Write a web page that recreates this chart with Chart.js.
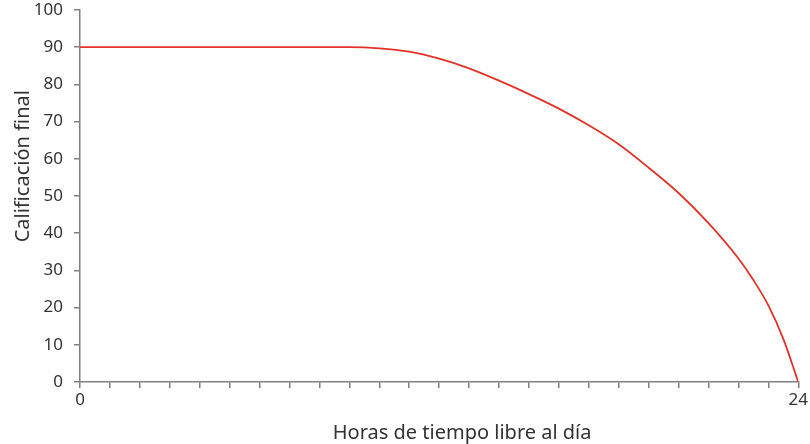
<!DOCTYPE html>
<html lang="es">
<head>
    <meta charset="UTF-8">
    <title>Calificación final vs horas de tiempo libre</title>
    <style>
        html, body { margin: 0; padding: 0; background: #fff; }
        #wrap { width: 810px; height: 444px; position: relative; }
    </style>
</head>
<body>
    <div id="wrap"><canvas id="chart" width="810" height="444"></canvas></div>

    <script src="https://cdn.jsdelivr.net/npm/chart.js@4/dist/chart.umd.min.js"></script>
    <script>
        // values
        const hours  = [0, 1, 2, 3, 4, 5, 6, 7, 8, 9, 10, 11, 12, 13, 14, 15, 16, 17, 18, 19, 20, 21, 22, 22.5, 23, 23.5, 24];
        const grades = [90, 90, 90, 90, 90, 90, 90, 90, 90, 90, 89.7, 88.8, 86.9, 84.3, 81.0, 77.4, 73.5, 69.0, 63.9, 57.6, 50.8, 42.7, 33.2, 27.4, 20.6, 11.6, 0];
        const xTickLabels = [0, 24];
        const yTicks = [0, 10, 20, 30, 40, 50, 60, 70, 80, 90, 100];
        const xTitle = 'Horas de tiempo libre al día';
        const yTitle = 'Calificación final';

        const axisColor = '#808080';
        const textColor = '#333333';
        const fontFamily = '"Noto Sans", "Open Sans", sans-serif';

        const points = hours.map((h, i) => ({ x: h, y: grades[i] }));

        // axis titles drawn by hand, the reference has them a bit off-centre
        const axisTitles = {
            id: 'axisTitles',
            afterDraw(chart) {
                const ctx = chart.ctx;
                const xs = chart.scales.x, ys = chart.scales.y;
                ctx.save();
                ctx.fillStyle = textColor;
                ctx.font = '20px ' + fontFamily;
                ctx.textAlign = 'center';
                ctx.textBaseline = 'alphabetic';
                ctx.fillText(xTitle, xs.left + (xs.right - xs.left) * 0.532, 439);
                ctx.translate(29, ys.top + (ys.bottom - ys.top) * 0.42);
                ctx.rotate(-Math.PI / 2);
                ctx.fillText(yTitle, 0, 0);
                ctx.restore();
            }
        };

        new Chart(document.getElementById('chart'), {
            type: 'line',
            data: {
                datasets: [{
                    data: points,
                    borderColor: '#e2332a',
                    borderWidth: 1.8,
                    pointRadius: 0,
                    fill: false,
                    cubicInterpolationMode: 'monotone'
                }]
            },
            options: {
                responsive: false,
                animation: false,
                layout: { padding: { top: 10, right: 11, left: 0, bottom: 0 } },
                plugins: { legend: { display: false }, tooltip: { enabled: false } },
                scales: {
                    x: {
                        type: 'linear',
                        min: 0,
                        max: 24,
                        afterFit(scale) { scale.height = 62; },
                        border: { color: axisColor, width: 1.5 },
                        grid: { drawOnChartArea: false, drawTicks: true, tickLength: 6, color: axisColor, lineWidth: 1.5 },
                        ticks: {
                            stepSize: 1,
                            autoSkip: false,
                            maxRotation: 0,
                            padding: 2,
                            color: textColor,
                            font: { size: 17, family: fontFamily },
                            callback: v => xTickLabels.includes(v) ? String(v) : ''
                        }
                    },
                    y: {
                        min: 0,
                        max: 100,
                        afterFit(scale) {
                            scale.width = 80;
                            scale.paddingTop = 0;   // let the plot start right under the top padding
                        },
                        afterBuildTicks(scale) { scale.ticks = yTicks.map(v => ({ value: v })); },
                        border: { color: axisColor, width: 1.5 },
                        grid: { drawOnChartArea: false, drawTicks: true, tickLength: 6, color: axisColor, lineWidth: 1.5 },
                        ticks: {
                            padding: 11,
                            color: textColor,
                            font: { size: 17, family: fontFamily }
                        }
                    }
                }
            },
            plugins: [axisTitles]
        });
    </script>
</body>
</html>
